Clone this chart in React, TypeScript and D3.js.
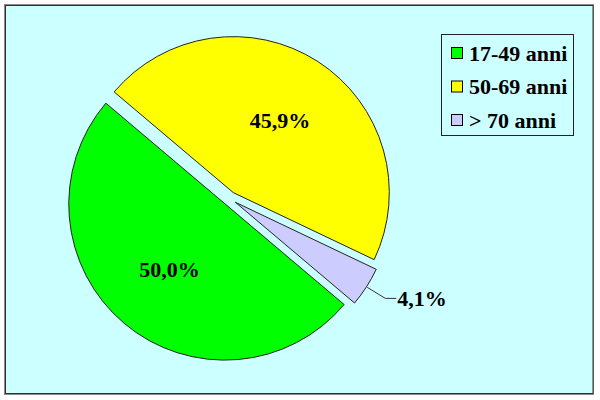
import React from "react";
import * as d3 from "d3";

const categories = ["17-49 anni", "50-69 anni", "> 70 anni"];
const values = [50.0, 45.9, 4.1];
const labels = ["50,0%", "45,9%", "4,1%"];
const colors = ["#00FF00", "#FFFF00", "#CCCCFF"];

const W = 600;
const H = 400;
const cx = 229.5;
const cy = 198.5;
const R = 156;
const explode = 7;
const startDeg = 130.2;
const FONT = "'Liberation Serif', 'Times New Roman', serif";

export default function App() {
  const pie = d3
    .pie<number>()
    .sort(null)
    .value((d) => d)
    .startAngle((startDeg * Math.PI) / 180)
    .endAngle((startDeg * Math.PI) / 180 + 2 * Math.PI);
  const arcs = pie(values);
  const arcGen = d3.arc<d3.PieArcDatum<number>>().innerRadius(0).outerRadius(R);
  const labelArc = d3.arc<d3.PieArcDatum<number>>().innerRadius(86).outerRadius(86);

  return (
    <svg
      width={W}
      height={H}
      style={{ position: "absolute", left: 0, top: 0, background: "#ffffff" }}
    >
      <rect x={4.5} y={4.5} width={589} height={390} fill="#CCFFFF" stroke="#8a8a8a" strokeWidth={1} />
      <rect x={5.5} y={5.5} width={587.5} height={388} fill="none" stroke="#303030" strokeWidth={1} />
      {arcs.map((a, i) => {
        const mid = (a.startAngle + a.endAngle) / 2;
        const ox = cx + explode * Math.sin(mid);
        const oy = cy - explode * Math.cos(mid);
        const outside = values[i] < 10;
        const [lx, ly] = labelArc.centroid(a);
        const edgeX = (R + 1) * Math.sin(mid);
        const edgeY = -(R + 1) * Math.cos(mid);
        return (
          <g key={categories[i]} transform={`translate(${ox},${oy})`}>
            <path d={arcGen(a) || ""} fill={colors[i]} stroke="#222" strokeWidth={1} />
            {outside ? (
              <g>
                <polyline
                  points={`${edgeX},${edgeY} ${edgeX + 18},${edgeY + 11} ${edgeX + 29},${edgeY + 11}`}
                  fill="none"
                  stroke="#333"
                  strokeWidth={1}
                />
                <text
                  x={edgeX + 30}
                  y={edgeY + 11}
                  dy="0.35em"
                  fontFamily={FONT}
                  fontWeight="bold"
                  fontSize={22}
                  fill="#000"
                >
                  {labels[i]}
                </text>
              </g>
            ) : (
              <text
                x={lx}
                y={ly}
                dy="0.35em"
                textAnchor="middle"
                fontFamily={FONT}
                fontWeight="bold"
                fontSize={22}
                fill="#000"
              >
                {labels[i]}
              </text>
            )}
          </g>
        );
      })}
      <g>
        <rect x={441.5} y={34.5} width={132} height={101} fill="#CCFFFF" stroke="#222" strokeWidth={1} />
        {categories.map((c, i) => (
          <g key={c} transform={`translate(451, ${47 + i * 33.5})`}>
            <rect x={0.5} y={0.5} width={11} height={11} fill={colors[i]} stroke="#000" strokeWidth={1} />
            <text x={18} y={6} dy="0.35em" fontFamily={FONT} fontWeight="bold" fontSize={22} fill="#000">
              {c}
            </text>
          </g>
        ))}
      </g>
    </svg>
  );
}
